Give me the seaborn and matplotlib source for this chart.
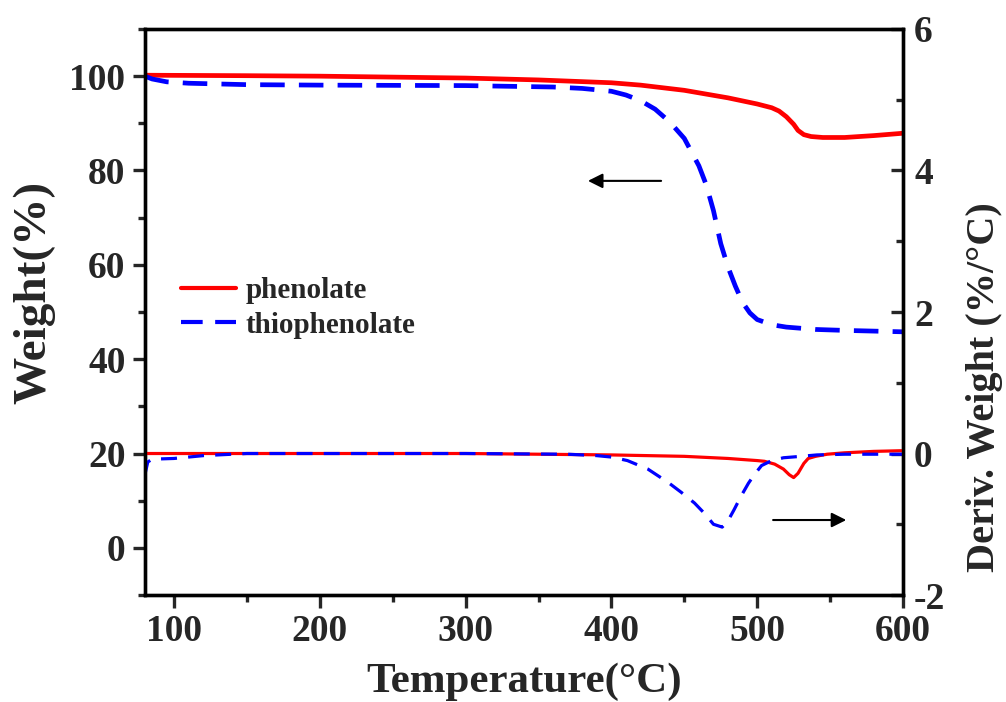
import pandas as pd
import matplotlib.pyplot as plt
import seaborn as sns
from matplotlib.ticker import MultipleLocator

# TGA curves (left axis, weight %)
temp_phen = [80, 150, 200, 250, 300, 350, 400, 420, 450, 480, 500, 510, 515, 520, 525, 528, 532, 537, 545, 560, 580, 600]
wt_phen = [100.2, 100.1, 100.0, 99.8, 99.6, 99.2, 98.6, 98.1, 97.0, 95.4, 94.1, 93.3, 92.6, 91.4, 89.8, 88.5, 87.6, 87.2, 87.0, 87.0, 87.4, 87.9]

temp_thio = [80, 85, 95, 110, 150, 200, 300, 360, 380, 400, 410, 420, 430, 440, 450, 460, 465, 470, 475, 480, 485, 490, 495, 500, 510, 520, 540, 560, 600]
wt_thio = [100.0, 99.4, 98.8, 98.5, 98.2, 98.1, 98.0, 97.7, 97.4, 96.8, 96.0, 94.8, 93.0, 90.3, 86.8, 81.0, 77.0, 71.5, 64.5, 59.5, 55.5, 52.0, 49.8, 48.4, 47.3, 46.8, 46.3, 46.1, 45.8]

# DTG curves (right axis, %/°C)
dtemp_phen = [80, 200, 300, 400, 450, 480, 500, 505, 512, 518, 522, 525, 528, 532, 535, 540, 548, 560, 580, 600]
dtg_phen = [0.0, 0.0, 0.0, -0.02, -0.04, -0.07, -0.1, -0.11, -0.15, -0.22, -0.3, -0.34, -0.28, -0.14, -0.07, -0.04, -0.01, 0.01, 0.03, 0.04]

dtemp_thio = [80, 82, 85, 100, 120, 150, 200, 300, 370, 390, 400, 411, 425, 439, 448, 457, 464, 470, 476, 480, 484, 489, 494, 498, 503, 510, 518, 530, 541, 560, 600]
dtg_thio = [-0.3, -0.12, -0.08, -0.07, -0.03, 0.0, 0.0, 0.0, -0.01, -0.03, -0.05, -0.1, -0.22, -0.41, -0.55, -0.7, -0.85, -1.0, -1.04, -0.95, -0.8, -0.6, -0.42, -0.3, -0.17, -0.1, -0.06, -0.04, -0.02, -0.01, -0.01]

labels = ['phenolate', 'thiophenolate']

sns.set_style('ticks')
plt.rcParams['font.family'] = ['Liberation Serif', 'DejaVu Serif']
plt.rcParams['font.weight'] = 'bold'
plt.rcParams['axes.labelweight'] = 'bold'
plt.rcParams['axes.unicode_minus'] = False

fig = plt.figure(figsize=(10.06, 7.02), dpi=100)
ax = fig.add_axes([0.144, 0.1524, 0.7536, 0.8063])
ax2 = ax.twinx()

tga_phen = pd.DataFrame({'T': temp_phen, 'W': wt_phen})
tga_thio = pd.DataFrame({'T': temp_thio, 'W': wt_thio})
dtg_p = pd.DataFrame({'T': dtemp_phen, 'D': dtg_phen})
dtg_t = pd.DataFrame({'T': dtemp_thio, 'D': dtg_thio})

sns.lineplot(data=tga_phen, x='T', y='W', ax=ax, color='#ff0000', lw=3.4, label=labels[0])
sns.lineplot(data=tga_thio, x='T', y='W', ax=ax, color='#0000ff', lw=3.4, label=labels[1])
ax.lines[1].set_dashes([5.2, 3.0])
sns.lineplot(data=dtg_p, x='T', y='D', ax=ax2, color='#ff0000', lw=2.3)
sns.lineplot(data=dtg_t, x='T', y='D', ax=ax2, color='#0000ff', lw=2.3)
ax2.lines[1].set_dashes([5, 3.5])

ax.set_xlim(80, 600)
ax.set_ylim(-10, 110)
ax2.set_ylim(-2, 6)

ax.set_xticks([100, 200, 300, 400, 500, 600])
ax.xaxis.set_minor_locator(MultipleLocator(50))
ax.set_yticks([0, 20, 40, 60, 80, 100])
ax.yaxis.set_minor_locator(MultipleLocator(10))
ax2.set_yticks([-2, 0, 2, 4, 6])
ax2.yaxis.set_minor_locator(MultipleLocator(1))

ax.set_xlabel('Temperature(°C)', fontsize=31, fontweight='bold')
ax.set_ylabel('Weight(%)', fontsize=34, fontweight='bold')
ax2.set_ylabel('Deriv. Weight (%/°C)', fontsize=29, fontweight='bold')
ax.xaxis.set_label_coords(0.5, -0.12)
ax.yaxis.set_label_coords(-0.118, 0.534)
ax2.yaxis.set_label_coords(1.083, 0.367)

for a in (ax, ax2):
    for s in a.spines.values():
        s.set_visible(True)
        s.set_linewidth(2.4)
        s.set_color('black')

ax.tick_params(axis='both', which='major', direction='out', length=9, width=2.4,
               labelsize=27, pad=5, right=False, top=False)
ax.tick_params(axis='both', which='minor', direction='out', length=5, width=2.4,
               right=False, top=False)
ax2.tick_params(axis='y', which='major', direction='in', length=9, width=2.4,
                labelsize=27, pad=8)
ax2.tick_params(axis='y', which='minor', direction='in', length=5, width=2.4)
for lab in ax.get_xticklabels() + ax.get_yticklabels() + ax2.get_yticklabels():
    lab.set_fontweight('bold')

ax.annotate('', xy=(382, 77.8), xytext=(436, 77.8),
            arrowprops=dict(arrowstyle='-|>', color='black', lw=1.5, mutation_scale=22))
ax2.annotate('', xy=(563, -0.94), xytext=(509, -0.94),
             arrowprops=dict(arrowstyle='-|>', color='black', lw=1.5, mutation_scale=22))

leg = ax.legend(loc='center left', bbox_to_anchor=(0.013, 0.507), frameon=False,
                prop={'size': 21, 'weight': 'bold'}, handlelength=1.9, handletextpad=0.3,
                labelspacing=0.25)
for h in leg.get_lines():
    h.set_linewidth(3)

fig.savefig('out.png', dpi=100)
